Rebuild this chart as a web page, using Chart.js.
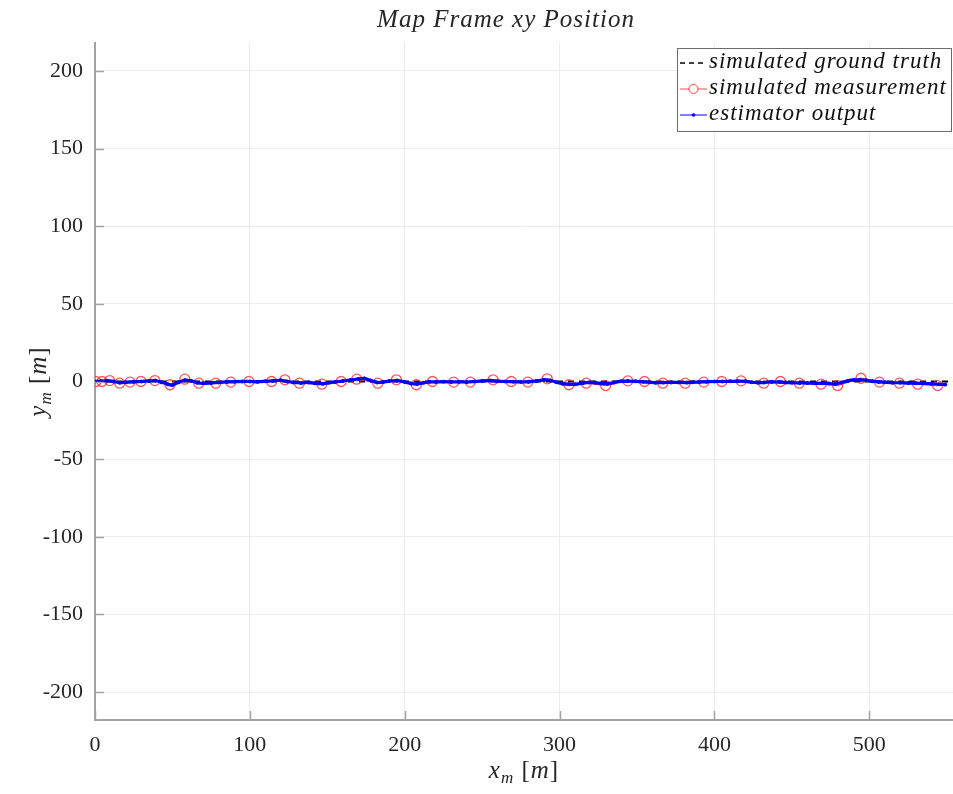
<!DOCTYPE html>
<html>
<head>
<meta charset="utf-8">
<script src="https://cdn.jsdelivr.net/npm/chart.js@4"></script>
<style>
  body { margin: 0; background: #fff; }
  canvas { display: block; }
</style>
</head>
<body>
<canvas id="mapChart" width="953" height="794"></canvas>
<script>
// ground truth path (straight line along the x axis)
const gtX = [0, 554]
const gtY = [0, 0]

// noisy position fixes
const measX = [0.5, 4.5, 9.5, 16, 22.6, 29.7, 38.7, 48.4, 58, 67, 78, 87.7, 99.4, 114, 122.6, 132, 146.5, 159, 169, 182.6,
    194.6, 207.5, 217.9, 231.6, 242.4, 257, 268.8, 279.5, 292, 306, 317.2, 329.7, 344, 354.8, 366.6,
    381.1, 393.1, 404.7, 417.2, 431.8, 442.6, 454.8, 468.8, 479.5, 494.6, 506.5, 519.4, 531.2, 544.1]
const measY = [0, 0, 0.6, -1.1, -0.4, 0, 0.6, -2.1, 1.5, -1.1, -1.1, -0.4, 0, 0, 1.1, -1.1, -1.7, 0, 1.5, -1.1,
    1.1, -2.1, 0, -0.4, -0.4, 1.1, 0, -0.4, 1.7, -2.1, -1.1, -2.6, 0.4, 0, -1.1,
    -1.1, -0.4, 0, 0.4, -1.1, 0, -1.1, -1.7, -2.6, 2.1, -0.4, -1.1, -1.7, -2.6]

// filtered estimate
const estX = [0, 4, 8, 12, 16, 20, 25, 30, 35, 39, 43, 47, 50, 54, 58, 62, 66, 70, 75, 80, 85, 90, 95, 100,
    105, 110, 115, 120, 124, 128, 133, 138, 142, 147, 151, 155, 160, 165, 170, 174, 178, 182, 186, 190, 195,
    200, 204, 208, 212, 216, 220, 225, 230, 235, 240, 245, 250, 255, 260, 265, 270, 275, 280, 285, 290, 294,
    298, 302, 306, 310, 315, 319, 323, 327, 331, 335, 340, 344, 349, 354, 358, 362, 367, 372, 377, 382, 386,
    390, 395, 400, 405, 410, 415, 420, 424, 428, 432, 437, 442, 446, 450, 455, 460, 465, 470, 474, 478, 482,
    486, 490, 494, 498, 502, 506, 510, 515, 520, 525, 530, 535, 540, 545, 549]
const estY = [0, 0.2, 0.5, 0, -0.8, -0.5, -0.2, 0, 0.4, 0.6, -0.5, -1.8, -2.2, -0.5, 0.8, 0.4, -0.8, -1.2, -0.9, -0.6, -0.3, -0.1, 0, 0,
    -0.2, 0.1, 0.5, 0.8, 0, -0.6, -0.9, -0.6, -1.2, -1.4, -0.8, -0.3, 0.3, 1.0, 1.6, 2.0, 0.6, -0.6, -0.4, 0.3, 0.6,
    -0.3, -1.3, -1.6, -0.8, -0.2, -0.3, -0.1, -0.3, -0.2, -0.4, 0, 0.4, 0.6, 0.2, 0, -0.1, -0.3, -0.2, 0.4, 1.0, 0.7,
    -0.5, -1.4, -1.8, -1.8, -1.0, -0.6, -0.8, -1.2, -1.4, -0.6, 0.2, 0.3, 0.1, -0.2, -0.5, -0.8, -0.7, -0.6, -0.6, -0.7, -0.5,
    -0.4, -0.2, 0, 0, 0.1, 0.2, 0.1, -0.5, -0.8, -0.6, -0.3, -0.4, -0.6, -0.8, -0.9, -1.0, -1.2, -1.1, -1.3, -1.6, -0.6,
    0.4, 1.0, 1.1, 0.8, 0.2, -0.3, -0.5, -0.8, -0.8, -1.0, -1.1, -1.2, -1.4, -1.8, -2.0]

const xTicks = [0, 100, 200, 300, 400, 500]
const yTicks = [-200, -150, -100, -50, 0, 50, 100, 150, 200]
const xLimits = [0, 554]
const yLimits = [-218, 218]

const legendLabels = ["simulated ground truth", "simulated measurement", "estimator output"]

const axisColor = "#a3a3a3"
const textColor = "#262626"
const serif = "'Liberation Serif', 'Times New Roman', serif"

const toPoints = (xs, ys) => xs.map((x, i) => ({ x: x, y: ys[i] }))

// draws a string made of [text, italic, size, dy] pieces centred on (cx, y)
const drawPieces = (ctx, pieces, cx, y) => {
    let total = 0
    pieces.forEach(p => {
        ctx.font = (p[1] ? "italic " : "") + p[2] + "px " + serif
        total += ctx.measureText(p[0]).width
    })
    let x = cx - total / 2
    pieces.forEach(p => {
        ctx.font = (p[1] ? "italic " : "") + p[2] + "px " + serif
        ctx.fillText(p[0], x, y + p[3])
        x += ctx.measureText(p[0]).width
    })
}

const decorations = {
    id: "decorations",
    afterDraw: (chart) => {
        const ctx = chart.ctx
        const area = chart.chartArea
        const xs = chart.scales.x
        const ys = chart.scales.y
        ctx.save()

        // inward tick marks
        ctx.strokeStyle = axisColor
        ctx.lineWidth = 1.5
        ctx.beginPath()
        xTicks.forEach(v => {
            const px = Math.round(xs.getPixelForValue(v)) + 0.5
            ctx.moveTo(px, area.bottom)
            ctx.lineTo(px, area.bottom - 9)
        })
        yTicks.forEach(v => {
            const py = Math.round(ys.getPixelForValue(v)) + 0.5
            ctx.moveTo(area.left, py)
            ctx.lineTo(area.left + 9, py)
        })
        ctx.stroke()

        ctx.fillStyle = textColor
        ctx.textBaseline = "alphabetic"
        ctx.textAlign = "left"
        ctx.letterSpacing = "1px"

        // title
        drawPieces(ctx, [["Map Frame xy Position", true, 25, 0]], 506, 27)

        // x axis label
        drawPieces(ctx, [["x", true, 25, 0], ["m", true, 17, 5], [" [", false, 25, 0], ["m", true, 25, 0], ["]", false, 25, 0]], 524, 778)

        // y axis label
        ctx.save()
        ctx.translate(46, (area.top + area.bottom) / 2)
        ctx.rotate(-Math.PI / 2)
        drawPieces(ctx, [["y", true, 25, 0], ["m", true, 17, 5], [" [", false, 25, 0], ["m", true, 25, 0], ["]", false, 25, 0]], 0, 0)
        ctx.restore()

        // legend box
        const bx = 677, by = 48, bw = 274, bh = 83
        ctx.fillStyle = "#fff"
        ctx.fillRect(bx, by, bw, bh)
        ctx.strokeStyle = "#6b6b6b"
        ctx.lineWidth = 1
        ctx.strokeRect(bx + 0.5, by + 0.5, bw, bh)

        const rows = [63, 89, 115]
        const x0 = 680, x1 = 707, xm = 693.5

        // ground truth sample
        ctx.strokeStyle = "#000"
        ctx.lineWidth = 1.5
        ctx.setLineDash([5, 4])
        ctx.beginPath()
        ctx.moveTo(x0, rows[0])
        ctx.lineTo(x1, rows[0])
        ctx.stroke()
        ctx.setLineDash([])

        // measurement sample
        ctx.strokeStyle = "rgba(255,0,0,0.7)"
        ctx.lineWidth = 1
        ctx.beginPath()
        ctx.moveTo(x0, rows[1])
        ctx.lineTo(x1, rows[1])
        ctx.stroke()
        ctx.beginPath()
        ctx.arc(xm, rows[1], 4.5, 0, Math.PI * 2)
        ctx.fillStyle = "#fff"
        ctx.fill()
        ctx.stroke()

        // estimator sample
        ctx.strokeStyle = "#0000ff"
        ctx.lineWidth = 1
        ctx.beginPath()
        ctx.moveTo(x0, rows[2])
        ctx.lineTo(x1, rows[2])
        ctx.stroke()
        ctx.fillStyle = "#0000ff"
        ctx.beginPath()
        ctx.arc(xm, rows[2], 1.8, 0, Math.PI * 2)
        ctx.fill()

        ctx.fillStyle = "#111"
        ctx.font = "italic 23px " + serif
        ctx.textBaseline = "middle"
        legendLabels.forEach((label, i) => {
            ctx.fillText(label, 709, rows[i] - 1)
        })

        ctx.restore()
    }
}

const mapChartCtx = document.getElementById("mapChart").getContext("2d")

const config = {
    type: "scatter",
    data: {
        datasets: [
            {
                label: legendLabels[2],
                data: toPoints(estX, estY),
                showLine: true,
                borderColor: "#0000ff",
                backgroundColor: "#0000ff",
                borderWidth: 3.2,
                pointRadius: 2,
                pointBorderWidth: 0,
                tension: 0.3,
                order: 0
            },
            {
                label: legendLabels[1],
                data: toPoints(measX, measY),
                showLine: true,
                borderColor: "rgba(255,0,0,0.7)",
                backgroundColor: "rgba(0,0,0,0)",
                borderWidth: 1.2,
                pointRadius: 5,
                pointBorderWidth: 1.3,
                pointBorderColor: "rgba(255,30,30,0.75)",
                order: 1
            },
            {
                label: legendLabels[0],
                data: toPoints(gtX, gtY),
                showLine: true,
                borderColor: "#000",
                borderWidth: 1.8,
                borderDash: [6, 5],
                pointRadius: 0,
                order: 2
            }
        ]
    },
    options: {
        responsive: false,
        animation: false,
        layout: {
            autoPadding: false,
            padding: { top: 43, left: 0, right: 0, bottom: 0 }
        },
        plugins: {
            legend: { display: false },
            title: { display: false },
            tooltip: { enabled: false }
        },
        scales: {
            x: {
                type: "linear",
                min: xLimits[0],
                max: xLimits[1],
                afterBuildTicks: (scale) => { scale.ticks = xTicks.map(v => ({ value: v })) },
                afterFit: (scale) => { scale.height = 74 },
                grid: { color: "#ececec", lineWidth: 1, drawTicks: false },
                border: { color: axisColor, width: 2 },
                ticks: {
                    color: textColor,
                    padding: 12,
                    maxRotation: 0,
                    font: { family: serif, size: 22 }
                }
            },
            y: {
                type: "linear",
                min: yLimits[0],
                max: yLimits[1],
                afterBuildTicks: (scale) => { scale.ticks = yTicks.map(v => ({ value: v })) },
                afterFit: (scale) => { scale.width = 95 },
                grid: { color: "#ececec", lineWidth: 1, drawTicks: false },
                border: { color: axisColor, width: 2 },
                ticks: {
                    color: textColor,
                    padding: 12,
                    font: { family: serif, size: 22 }
                }
            }
        }
    },
    plugins: [decorations]
}

new Chart(mapChartCtx, config)
</script>
</body>
</html>
